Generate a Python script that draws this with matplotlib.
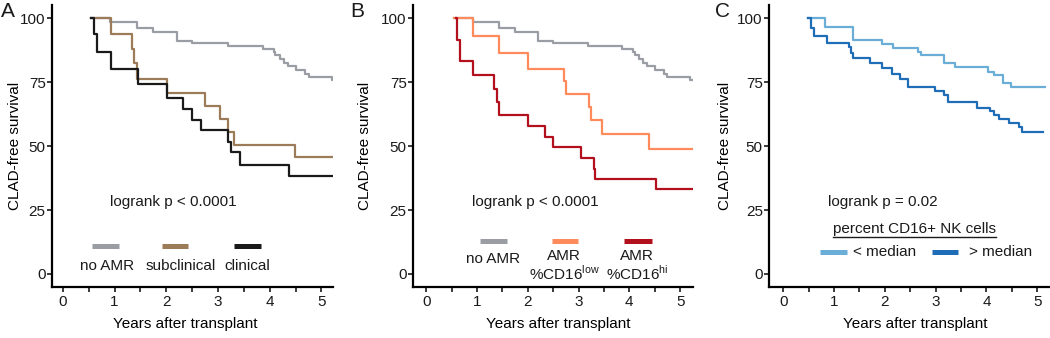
import matplotlib
matplotlib.use("Agg")
import matplotlib.pyplot as plt

plt.rcParams["font.family"] = ["Liberation Sans", "DejaVu Sans"]
plt.rcParams["text.color"] = "#1a1a1a"

# ---- data (years after transplant, CLAD-free survival %) ----
noamr_t = [0.54, 0.92, 1.43, 1.75, 2.20, 2.49, 3.19, 3.86, 4.08, 4.11, 4.19,
           4.27, 4.35, 4.51, 4.68, 4.75, 5.20, 5.23]
noamr_s = [100, 98.7, 96.1, 94.8, 91.2, 90.2, 89.1, 88.0, 86.9, 85.6, 84.0,
           82.7, 81.4, 79.7, 78.4, 77.1, 75.8, 75.8]

subclin_t = [0.54, 0.94, 1.33, 1.38, 1.44, 2.01, 2.75, 3.04, 3.20, 3.30, 4.48, 5.23]
subclin_s = [100, 93.8, 88.2, 82.4, 76.1, 70.8, 65.6, 60.8, 55.5, 50.6, 45.7, 45.7]

clin_t = [0.54, 0.61, 0.67, 0.93, 1.45, 2.01, 2.33, 2.49, 2.68, 3.20, 3.26, 3.42, 4.37, 5.23]
clin_s = [100, 93.8, 86.9, 80.0, 74.2, 69.0, 64.7, 60.4, 56.2, 51.6, 47.7, 42.7, 38.2, 38.2]

cd16low_t = [0.54, 0.92, 1.44, 2.01, 2.72, 2.76, 3.21, 3.24, 3.46, 4.39, 5.26]
cd16low_s = [100, 93.0, 86.6, 80.3, 75.4, 70.3, 65.4, 60.4, 54.7, 48.7, 48.7]

cd16hi_t = [0.58, 0.60, 0.66, 0.93, 1.34, 1.39, 1.44, 2.01, 2.34, 2.49, 3.05,
            3.30, 3.33, 4.52, 5.26]
cd16hi_s = [100, 91.7, 83.2, 77.7, 72.3, 67.3, 62.1, 57.8, 53.6, 49.5, 45.2,
            40.9, 37.0, 33.1, 33.1]

below_t = [0.48, 0.83, 1.37, 1.94, 2.16, 2.65, 2.71, 3.16, 3.39, 4.04, 4.15,
           4.32, 4.48, 5.16]
below_s = [100, 96.6, 91.7, 89.8, 88.4, 86.8, 85.5, 82.7, 81.0, 79.1, 77.7,
           74.8, 73.1, 73.1]

above_t = [0.48, 0.55, 0.60, 0.87, 1.29, 1.33, 1.38, 1.71, 1.94, 2.14, 2.29,
           2.45, 2.99, 3.16, 3.25, 3.82, 4.07, 4.15, 4.24, 4.45, 4.65, 4.71, 5.12]
above_s = [100, 96.1, 93.0, 90.4, 88.6, 86.5, 84.5, 82.7, 80.7, 78.1, 76.1,
           73.1, 71.6, 69.9, 67.1, 65.1, 63.6, 62.1, 60.5, 58.9, 57.3, 55.4, 55.4]

x_ticks = [0, 1, 2, 3, 4, 5]
y_ticks = [0, 25, 50, 75, 100]

GRAY = "#9a9ea4"
BROWN = "#9c7b58"
BLACK = "#1a1a1a"
ORANGE = "#ff8a5c"
RED = "#b3101e"
LBLUE = "#6aaed8"
DBLUE = "#1f6db7"

FS = 11

fig = plt.figure(figsize=(10.5, 3.38), dpi=100)


def style_axes(ax, xmin, xmax, ylab_x, xlab_x):
    ax.set_xlim(xmin, xmax)
    ax.set_ylim(-5.1, 105.2)
    for s in ["top", "right"]:
        ax.spines[s].set_visible(False)
    for s in ["left", "bottom"]:
        ax.spines[s].set_linewidth(1.6)
    ax.set_xticks(x_ticks)
    ax.set_xticks([0.5, 1.5, 2.5, 3.5, 4.5], minor=True)
    ax.set_yticks(y_ticks)
    ax.tick_params(which="both", direction="out", length=3.5, width=1.2,
                   labelsize=FS, colors="#1a1a1a")
    ax.tick_params(axis="y", pad=1)
    ax.tick_params(axis="x", pad=2.5)
    ax.set_xlabel("Years after transplant", fontsize=FS)
    ax.set_ylabel("CLAD-free survival", fontsize=FS)
    ax.yaxis.set_label_coords(ylab_x, 0.5)
    ax.xaxis.set_label_coords(xlab_x, -0.106)


lw = 1.6
leg_lw = 3.6

# ---- panel A ----
axA = fig.add_axes([0.0495, 0.151, 0.268, 0.834])
style_axes(axA, -0.21, 5.23, -0.107, 0.473)
axA.step(noamr_t, noamr_s, where="post", color=GRAY, lw=lw)
axA.step(subclin_t, subclin_s, where="post", color=BROWN, lw=lw)
axA.step(clin_t, clin_s, where="post", color=BLACK, lw=lw)
axA.text(0.91, 28, "logrank p < 0.0001", fontsize=FS, va="center")
axA.plot([0.56, 1.09], [11, 11], color=GRAY, lw=leg_lw, solid_capstyle="butt")
axA.plot([1.92, 2.42], [11, 11], color=BROWN, lw=leg_lw, solid_capstyle="butt")
axA.plot([3.31, 3.84], [11, 11], color=BLACK, lw=leg_lw, solid_capstyle="butt")
axA.text(0.85, 3, "no AMR", fontsize=FS, ha="center", va="center")
axA.text(2.27, 3, "subclinical", fontsize=FS, ha="center", va="center")
axA.text(3.57, 3, "clinical", fontsize=FS, ha="center", va="center")

# ---- panel B ----
axB = fig.add_axes([0.3933, 0.151, 0.267, 0.834])
style_axes(axB, -0.26, 5.26, -0.146, 0.52)
axB.step(noamr_t, noamr_s, where="post", color=GRAY, lw=lw)
axB.step(cd16low_t, cd16low_s, where="post", color=ORANGE, lw=lw)
axB.step(cd16hi_t, cd16hi_s, where="post", color=RED, lw=lw)
axB.text(0.91, 28, "logrank p < 0.0001", fontsize=FS, va="center")
axB.plot([1.06, 1.59], [12.9, 12.9], color=GRAY, lw=leg_lw, solid_capstyle="butt")
axB.plot([2.48, 2.99], [12.9, 12.9], color=ORANGE, lw=leg_lw, solid_capstyle="butt")
axB.plot([3.90, 4.45], [12.9, 12.9], color=RED, lw=leg_lw, solid_capstyle="butt")
axB.text(1.32, 5.7, "no AMR", fontsize=FS, ha="center", va="center")
axB.text(2.72, 3.2, "AMR\n" + r"%CD16$^{\mathregular{low}}$", fontsize=FS,
         ha="center", va="center", linespacing=1.05, multialignment="center")
axB.text(4.15, 3.2, "AMR\n" + r"%CD16$^{\mathregular{hi}}$", fontsize=FS,
         ha="center", va="center", linespacing=1.05, multialignment="center")

# ---- panel C ----
axC = fig.add_axes([0.7324, 0.151, 0.268, 0.834])
style_axes(axC, -0.28, 5.26, -0.132, 0.52)
axC.step(below_t, below_s, where="post", color=LBLUE, lw=lw)
axC.step(above_t, above_s, where="post", color=DBLUE, lw=lw)
axC.text(0.89, 28, "logrank p = 0.02", fontsize=FS, va="center")
hdr = axC.text(0.98, 17.4, "percent CD16+ NK cells", fontsize=FS, va="center")
axC.plot([0.73, 1.26], [8.6, 8.6], color=LBLUE, lw=leg_lw, solid_capstyle="butt")
axC.plot([2.93, 3.44], [8.6, 8.6], color=DBLUE, lw=leg_lw, solid_capstyle="butt")
axC.text(1.38, 8.6, "< median", fontsize=FS, va="center")
axC.text(3.66, 8.6, "> median", fontsize=FS, va="center")

# underline the legend header
fig.canvas.draw()
bb = hdr.get_window_extent().transformed(axC.transData.inverted())
axC.plot([bb.x0, bb.x1], [14.4, 14.4], color="#1a1a1a", lw=1.0)

# panel letters
fig.text(0.001, 0.995, "A", fontsize=15, va="top")
fig.text(0.334, 0.995, "B", fontsize=15, va="top")
fig.text(0.681, 0.995, "C", fontsize=15, va="top")

fig.savefig("out.png", dpi=100)
